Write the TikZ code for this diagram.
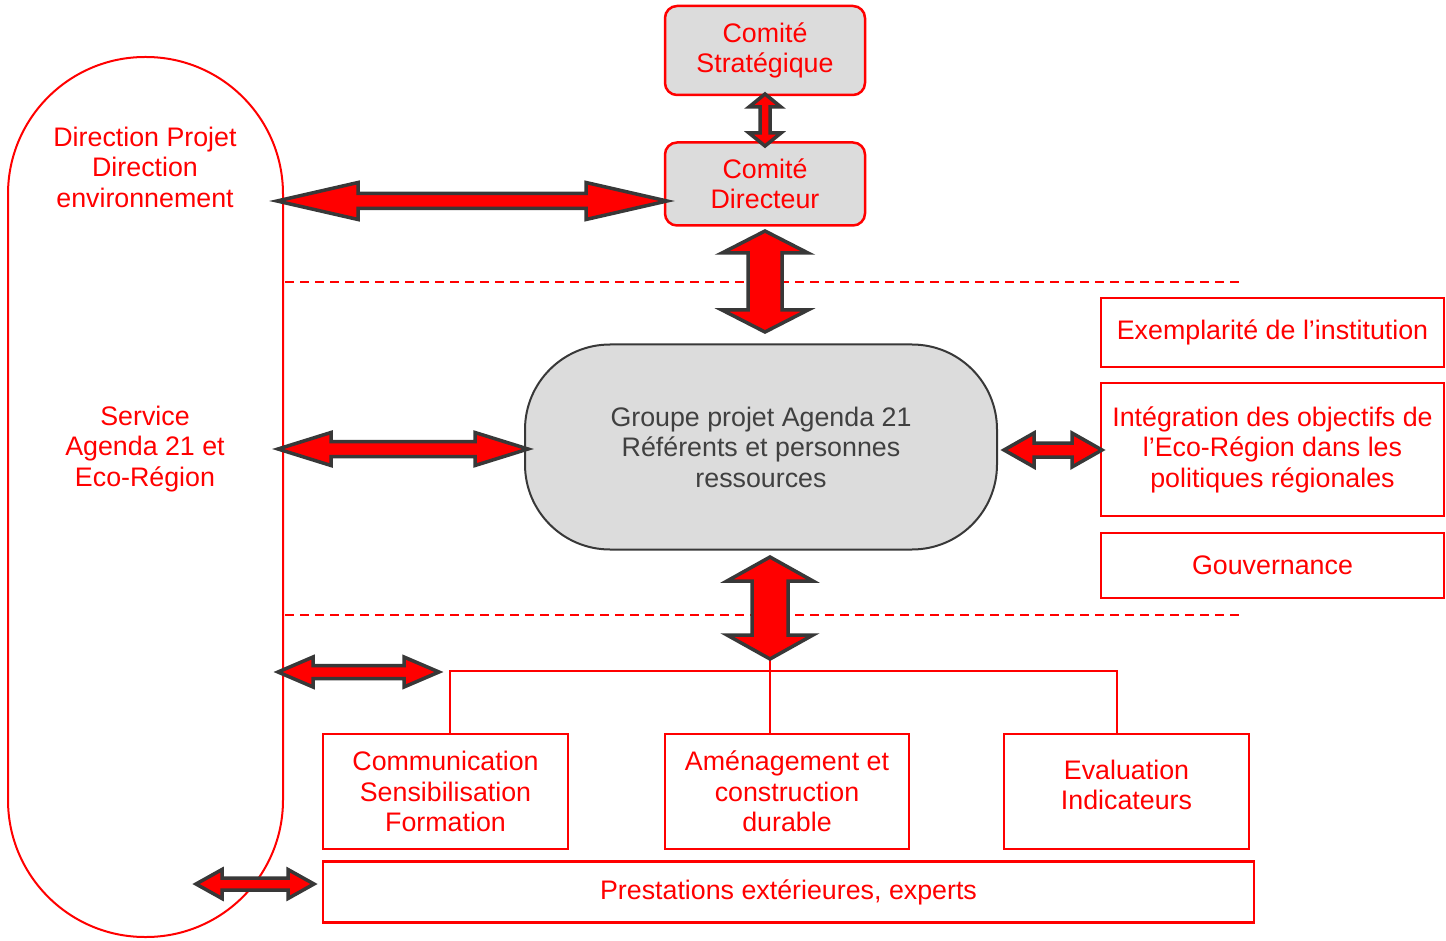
\documentclass[tikz,border=0pt]{standalone}
\usepackage{fontspec}
\setmainfont{Liberation Sans}
\usetikzlibrary{calc}
\definecolor{boxred}{RGB}{255,0,0}
\definecolor{boxgray}{RGB}{220,220,220}
\definecolor{outl}{RGB}{56,56,56}
\definecolor{grptext}{RGB}{64,64,64}
\tikzset{
  redbox/.style={draw=boxred, line width=2.5pt, text=boxred, align=center, inner sep=0pt,
    font=\fontsize{26.8}{30.5}\selectfont},
  comitebox/.style={redbox, fill=boxgray, rounded corners=12pt, minimum width=200pt},
  plainbox/.style={redbox},
  grpbox/.style={draw=outl, line width=2pt, fill=boxgray, rounded corners=85pt, text=grptext,
    align=center, minimum width=472pt, minimum height=205pt,
    font=\fontsize{26.8}{30.5}\selectfont},
  lftshape/.style={draw=boxred, line width=2pt, rounded corners=137pt, minimum width=275pt, minimum height=880pt},
  redtext/.style={text=boxred, align=center, font=\fontsize{26.8}{30.5}\selectfont},
  dblarrow/.style={draw=outl, fill=boxred, line width=3.5pt, line join=miter},
  sepline/.style={draw=boxred, dashed, dash pattern=on 9pt off 6pt, line width=2pt},
  busline/.style={draw=boxred, line width=2pt},
}
% horizontal double arrow: #1 left tip, #2 right tip, #3 shaft half, #4 head half, #5 head length
\newcommand{\HDArrow}[5]{%
  \path[dblarrow] let \p1=(#1), \p2=(#2) in
    (\x1,\y1) -- (\x1+#5pt,\y1+#4pt) -- (\x1+#5pt,\y1+#3pt) -- (\x2-#5pt,\y1+#3pt)
    -- (\x2-#5pt,\y1+#4pt) -- (\x2,\y1) -- (\x2-#5pt,\y1-#4pt) -- (\x2-#5pt,\y1-#3pt)
    -- (\x1+#5pt,\y1-#3pt) -- (\x1+#5pt,\y1-#4pt) -- cycle;}
% vertical double arrow: #1 top tip, #2 bottom tip
\newcommand{\VDArrow}[5]{%
  \path[dblarrow] let \p1=(#1), \p2=(#2) in
    (\x1,\y1) -- (\x1+#4pt,\y1-#5pt) -- (\x1+#3pt,\y1-#5pt) -- (\x1+#3pt,\y2+#5pt)
    -- (\x1+#4pt,\y2+#5pt) -- (\x1,\y2) -- (\x1-#4pt,\y2+#5pt) -- (\x1-#3pt,\y2+#5pt)
    -- (\x1-#3pt,\y1-#5pt) -- (\x1-#4pt,\y1-#5pt) -- cycle;}
\begin{document}
\begin{tikzpicture}[x=1pt,y=-1pt]
\useasboundingbox (0,0) rectangle (1446,941);

% left tall shape
\node[lftshape] (lft) at (145.5,497) {};
\node[redtext] (dirtxt) at (145,167) {Direction Projet\\Direction\\environnement};
\node[redtext] (svctxt) at (145,449) {Service\\Agenda 21 et\\Eco-Région};

% committees
\node[comitebox, minimum height=89pt] (cs) at (765,50.5) {Comité\\Stratégique};
\node[comitebox, minimum height=83pt] (cd) at (765,184) {Comité\\Directeur};

% group
\node[grpbox] (grp) at (761,447) {Groupe projet Agenda 21\\Référents et personnes\\ressources};

% right boxes
\node[plainbox, minimum width=343pt, minimum height=69pt] (ex) at (1272.5,332.5) {Exemplarité de l’institution};
\node[plainbox, minimum width=343pt, minimum height=133pt] (integ) at (1272.5,449.5) {Intégration des objectifs de\\l’Eco-Région dans les\\politiques régionales};
\node[plainbox, minimum width=343pt, minimum height=65pt] (gv) at (1272.5,565.5) {Gouvernance};

% bottom boxes
\node[plainbox, minimum width=245pt, minimum height=115pt] (com) at (445.5,791.5) {Communication\\Sensibilisation\\Formation};
\node[plainbox, minimum width=244pt, minimum height=115pt] (am) at (787,791.5) {Aménagement et\\construction\\durable};
\node[plainbox, minimum width=245pt, minimum height=115pt] (ev) at (1126.5,791.5) {};
\node[redtext] (evtxt) at (1126.5,785) {Evaluation\\Indicateurs};
\node[plainbox, minimum width=931pt, minimum height=61pt] (pr) at (788.5,892) {Prestations extérieures, experts};

% dashed separators
\coordinate (s1a) at (285,282); \coordinate (s1b) at (1240,282);
\coordinate (s2a) at (285,615); \coordinate (s2b) at (1240,615);
\draw[sepline] (s1a) -- (s1b);
\draw[sepline] (s2a) -- (s2b);

% arrow end points
\coordinate (a1l) at (277,201);  \coordinate (a1r) at (667,201);
\coordinate (v1t) at (765,94);   \coordinate (v1b) at (765,146);
\coordinate (v2t) at (765,231);  \coordinate (v2b) at (765,332);
\coordinate (v3t) at (770,557);  \coordinate (v3b) at (770,659);
\coordinate (a2l) at (278,449);  \coordinate (a2r) at (528,449);
\coordinate (a3l) at (1004,450); \coordinate (a3r) at (1102,450);
\coordinate (a4l) at (278,672);  \coordinate (a4r) at (439,672);
\coordinate (a5l) at (196,884);  \coordinate (a5r) at (314,884);

% bus connectors
\coordinate (busl) at (450,671);
\coordinate (busr) at (1117,671);
\draw[busline] (busl |- com.north) -- (busl) -- (busr) -- (busr |- ev.north);
\draw[busline] (v3b) -- (v3b |- am.north);

% double arrows
\HDArrow{a1l}{a1r}{7.5}{18.5}{81}
\VDArrow{v1t}{v1b}{5}{16}{13}
\VDArrow{v2t}{v2b}{17}{43}{22}
\VDArrow{v3t}{v3b}{18}{43}{24}
\HDArrow{a2l}{a2r}{7.5}{16.5}{53}
\HDArrow{a3l}{a3r}{7}{17}{30}
\HDArrow{a4l}{a4r}{6.5}{15}{35}
\HDArrow{a5l}{a5r}{6}{14.5}{26}
\end{tikzpicture}
\end{document}
